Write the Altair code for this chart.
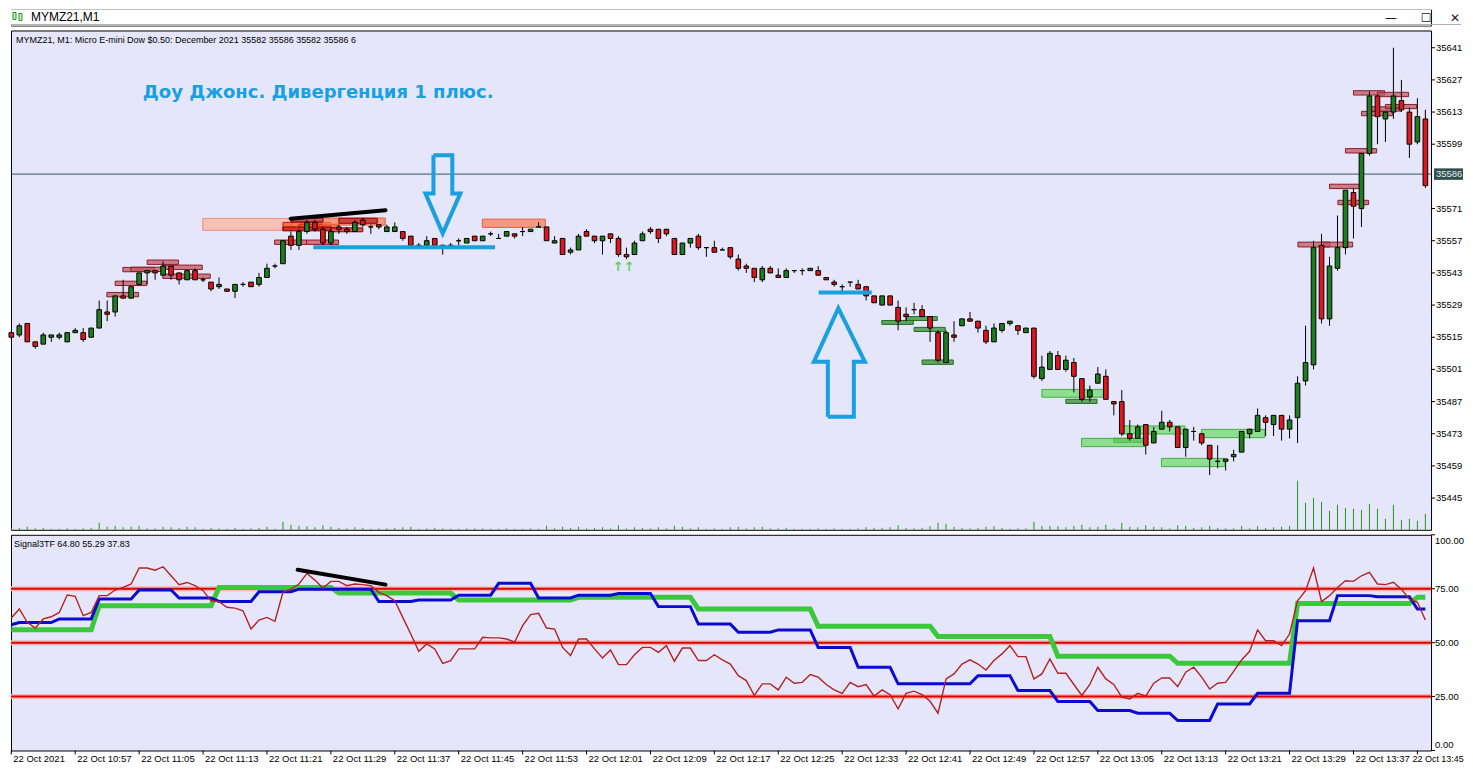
import altair as alt
import pandas as pd

# ---------------- data ----------------
TIME_LABELS = ["22 Oct 2021", "22 Oct 10:57", "22 Oct 11:05", "22 Oct 11:13", "22 Oct 11:21",
               "22 Oct 11:29", "22 Oct 11:37", "22 Oct 11:45", "22 Oct 11:53", "22 Oct 12:01",
               "22 Oct 12:09", "22 Oct 12:17", "22 Oct 12:25", "22 Oct 12:33", "22 Oct 12:41",
               "22 Oct 12:49", "22 Oct 12:57", "22 Oct 13:05", "22 Oct 13:13", "22 Oct 13:21",
               "22 Oct 13:29", "22 Oct 13:37", "22 Oct 13:45"]
LABEL_STEP = 8  # one label every 8 one-minute bars

OPEN = [
    35517, 35516, 35521, 35513, 35512, 35515, 35515, 35513, 35517, 35517,
    35515, 35519, 35526, 35526, 35533, 35532, 35538, 35543, 35544, 35542,
    35546, 35543, 35540, 35544, 35540, 35539, 35537, 35536, 35535, 35538,
    35539, 35538, 35541, 35546, 35547, 35559, 35555, 35561, 35565, 35562,
    35556, 35563, 35562, 35561, 35566, 35563, 35564, 35561, 35561, 35561,
    35559, 35555, 35555, 35558, 35555, 35555, 35557, 35556, 35559, 35557,
    35560, 35558, 35559, 35560, 35561, 35561, 35563, 35563, 35556, 35558,
    35552, 35553, 35561, 35559, 35557, 35560, 35558, 35551, 35551, 35557,
    35562, 35562, 35562, 35558, 35551, 35556, 35559, 35554, 35554, 35553,
    35554, 35549, 35546, 35545, 35540, 35545, 35542, 35541, 35544, 35544,
    35544, 35544, 35541, 35539, 35537, 35539, 35538, 35537, 35533, 35529,
    35533, 35528, 35525, 35527, 35527, 35524, 35517, 35504, 35516, 35520,
    35523, 35522, 35518, 35513, 35518, 35521, 35520, 35517, 35519, 35497,
    35501, 35507, 35501, 35504, 35497, 35489, 35495, 35498, 35487, 35487,
    35473, 35471, 35477, 35469, 35475, 35478, 35476, 35467, 35474, 35473,
    35468, 35461, 35461, 35463, 35465, 35473, 35474, 35480, 35477, 35481,
    35475, 35480, 35496, 35503, 35555, 35523, 35545, 35554, 35578, 35571,
    35595, 35620, 35610, 35613, 35618, 35613, 35600, 35610]
HIGH = [
    35518, 35521, 35521, 35513, 35517, 35516, 35517, 35517, 35519, 35519,
    35519, 35531, 35531, 35533, 35540, 35537, 35543, 35544, 35544, 35548,
    35546, 35543, 35544, 35545, 35541, 35539, 35541, 35536, 35538, 35539,
    35539, 35543, 35547, 35547, 35557, 35561, 35562, 35566, 35566, 35563,
    35562, 35564, 35563, 35566, 35567, 35564, 35564, 35564, 35565, 35561,
    35559, 35556, 35559, 35558, 35555, 35556, 35558, 35558, 35559, 35559,
    35561, 35560, 35561, 35560, 35563, 35562, 35565, 35563, 35559, 35558,
    35554, 35560, 35562, 35559, 35559, 35560, 35559, 35554, 35557, 35561,
    35563, 35562, 35562, 35558, 35556, 35558, 35560, 35554, 35557, 35554,
    35554, 35551, 35547, 35545, 35546, 35546, 35545, 35545, 35544, 35545,
    35545, 35546, 35541, 35540, 35538, 35539, 35540, 35537, 35533, 35533,
    35533, 35531, 35528, 35530, 35529, 35524, 35518, 35518, 35522, 35523,
    35526, 35522, 35520, 35521, 35521, 35522, 35520, 35519, 35519, 35507,
    35509, 35509, 35507, 35506, 35497, 35494, 35502, 35501, 35487, 35492,
    35479, 35477, 35477, 35476, 35483, 35479, 35476, 35475, 35476, 35473,
    35468, 35468, 35462, 35466, 35474, 35475, 35484, 35481, 35481, 35481,
    35481, 35498, 35520, 35557, 35560, 35550, 35568, 35579, 35580, 35595,
    35622, 35620, 35613, 35641, 35627, 35615, 35619, 35614]
LOW = [
    35514, 35515, 35513, 35510, 35512, 35513, 35514, 35513, 35517, 35513,
    35515, 35519, 35522, 35524, 35532, 35532, 35538, 35538, 35540, 35542,
    35540, 35538, 35540, 35540, 35539, 35535, 35536, 35535, 35532, 35537,
    35537, 35537, 35541, 35545, 35547, 35553, 35553, 35560, 35561, 35555,
    35555, 35560, 35560, 35561, 35563, 35560, 35562, 35561, 35561, 35557,
    35555, 35554, 35555, 35555, 35551, 35554, 35555, 35556, 35557, 35557,
    35559, 35558, 35559, 35558, 35559, 35561, 35563, 35557, 35556, 35551,
    35551, 35553, 35559, 35556, 35551, 35556, 35550, 35549, 35551, 35557,
    35560, 35556, 35559, 35551, 35551, 35554, 35553, 35550, 35552, 35553,
    35549, 35544, 35543, 35539, 35539, 35543, 35541, 35541, 35543, 35542,
    35544, 35542, 35540, 35537, 35535, 35537, 35536, 35531, 35530, 35529,
    35529, 35518, 35522, 35525, 35524, 35513, 35504, 35504, 35513, 35520,
    35522, 35517, 35512, 35513, 35517, 35520, 35516, 35517, 35497, 35496,
    35501, 35501, 35500, 35491, 35487, 35487, 35495, 35488, 35481, 35472,
    35470, 35471, 35464, 35469, 35475, 35474, 35467, 35463, 35470, 35468,
    35455, 35458, 35457, 35461, 35465, 35471, 35474, 35472, 35472, 35470,
    35471, 35469, 35494, 35501, 35521, 35520, 35544, 35551, 35558, 35563,
    35594, 35599, 35600, 35610, 35613, 35593, 35599, 35580]
CLOSE = [
    35515, 35520, 35513, 35511, 35516, 35516, 35516, 35517, 35518, 35514,
    35519, 35527, 35525, 35533, 35532, 35537, 35543, 35544, 35543, 35546,
    35542, 35540, 35544, 35540, 35540, 35536, 35538, 35535, 35538, 35538,
    35537, 35541, 35545, 35546, 35557, 35555, 35561, 35565, 35562, 35556,
    35561, 35562, 35561, 35565, 35564, 35563, 35563, 35563, 35563, 35558,
    35555, 35555, 35557, 35555, 35555, 35555, 35557, 35558, 35557, 35559,
    35560, 35558, 35561, 35559, 35561, 35562, 35563, 35557, 35557, 35551,
    35553, 35559, 35559, 35557, 35559, 35558, 35551, 35550, 35556, 35560,
    35561, 35558, 35560, 35551, 35556, 35558, 35554, 35554, 35552, 35553,
    35550, 35545, 35545, 35541, 35545, 35543, 35541, 35544, 35544, 35544,
    35545, 35542, 35540, 35538, 35537, 35539, 35536, 35533, 35530, 35533,
    35529, 35522, 35524, 35527, 35524, 35519, 35505, 35517, 35515, 35523,
    35522, 35519, 35513, 35519, 35521, 35522, 35518, 35519, 35498, 35502,
    35508, 35501, 35505, 35498, 35488, 35492, 35499, 35488, 35486, 35473,
    35471, 35476, 35468, 35474, 35478, 35476, 35467, 35475, 35474, 35469,
    35462, 35461, 35462, 35464, 35474, 35475, 35481, 35478, 35481, 35475,
    35479, 35495, 35504, 35554, 35523, 35546, 35554, 35579, 35572, 35595,
    35620, 35611, 35613, 35620, 35614, 35599, 35611, 35581]
VOLUME = [
    3, 4, 6, 3, 4, 2, 2, 3, 2, 3,
    4, 14, 6, 8, 5, 6, 8, 3, 3, 6,
    5, 4, 6, 5, 2, 4, 3, 2, 4, 2,
    3, 4, 6, 2, 16, 10, 8, 7, 5, 9,
    6, 4, 3, 5, 4, 2, 3, 3, 4, 5,
    6, 2, 3, 4, 3, 2, 2, 3, 3, 3,
    2, 2, 3, 2, 2, 3, 2, 8, 3, 6,
    4, 6, 3, 4, 5, 3, 9, 3, 5, 4,
    3, 5, 3, 8, 6, 3, 5, 2, 3, 2,
    5, 6, 3, 5, 6, 3, 3, 4, 2, 2,
    2, 3, 2, 3, 2, 2, 3, 5, 4, 4,
    5, 9, 4, 3, 4, 7, 14, 12, 6, 4,
    3, 4, 6, 7, 4, 2, 3, 3, 16, 8,
    8, 7, 5, 8, 10, 5, 6, 10, 3, 14,
    6, 5, 9, 6, 5, 3, 9, 8, 4, 5,
    8, 4, 3, 3, 8, 3, 7, 4, 5, 6,
    8, 98, 54, 64, 56, 38, 50, 44, 42, 40,
    52, 42, 22, 50, 20, 22, 18, 32]
VOLUME_FULL_SCALE = 1000  # volume that would fill the whole price pane height
LAST_PRICE = 35586
PRICE_TICKS = [35445, 35459, 35473, 35487, 35501, 35515, 35529, 35543, 35557,
               35571, 35599, 35613, 35627, 35641]

# Signal3TF indicator (M1 red, M5 blue, M15 green), one value per bar
RED = [
    61.4, 65.6, 59.4, 56.8, 61.0, 62.0, 64.0, 72.1, 71.5, 62.5,
    64.0, 71.8, 71.8, 74.4, 75.6, 77.2, 84.6, 84.6, 83.6, 85.2,
    81.0, 76.9, 77.9, 76.4, 74.1, 69.4, 69.0, 66.4, 66.0, 64.8,
    56.3, 60.5, 61.7, 59.9, 73.3, 74.8, 77.2, 82.1, 79.0, 75.3,
    78.4, 78.4, 76.4, 77.2, 76.9, 76.4, 73.3, 71.8, 69.4, 61.7,
    54.0, 46.0, 49.4, 47.1, 40.4, 41.7, 47.1, 47.1, 47.1, 52.5,
    52.2, 52.2, 51.7, 50.2, 57.9, 63.0, 63.6, 56.8, 56.3, 47.8,
    44.0, 51.7, 51.7, 47.1, 42.9, 46.6, 39.8, 39.8, 44.4, 47.8,
    47.8, 45.5, 48.6, 41.4, 47.5, 47.5, 41.7, 41.7, 44.4, 42.0,
    40.1, 34.7, 32.4, 25.5, 30.9, 30.9, 28.1, 34.0, 31.2, 31.6,
    35.2, 34.0, 30.6, 28.1, 26.5, 31.6, 29.6, 30.6, 25.2, 28.1,
    25.9, 19.3, 26.5, 27.5, 25.9, 22.8, 17.3, 33.2, 35.5, 40.1,
    42.0, 40.1, 37.3, 41.7, 44.8, 48.6, 43.5, 43.5, 33.2, 35.5,
    42.4, 35.8, 35.8, 30.6, 25.5, 30.6, 38.6, 33.2, 30.6, 24.7,
    23.9, 26.5, 25.2, 31.2, 33.6, 33.6, 29.6, 36.3, 38.6, 34.0,
    28.5, 31.2, 31.6, 36.7, 42.0, 46.0, 55.9, 50.9, 50.9, 48.6,
    54.0, 69.4, 74.1, 84.6, 69.1, 71.8, 75.6, 78.7, 78.4, 81.0,
    82.6, 77.2, 76.9, 78.0, 74.8, 70.2, 68.7, 60.5]
BLUE = [
    58.3,
    59.3, 59.3, 59.3, 59.3, 59.3, 61.0, 61.0, 61.0, 61.0, 61.0,
    70.2, 70.2, 70.2, 70.2, 70.2, 74.4, 74.4, 74.4, 74.4, 74.4,
    70.7, 70.7, 70.7, 70.7, 70.7, 69.1, 69.1, 69.1, 69.1, 69.1,
    73.6, 73.6, 73.6, 73.6, 73.6, 74.8, 74.8, 74.8, 74.8, 74.8,
    74.8, 74.8, 74.8, 74.8, 74.8, 69.1, 69.1, 69.1, 69.1, 69.1,
    69.8, 69.8, 69.8, 69.8, 69.8, 72.0, 72.0, 72.0, 72.0, 72.0,
    77.5, 77.5, 77.5, 77.5, 77.5, 70.7, 70.7, 70.7, 70.7, 70.7,
    72.0, 72.0, 72.0, 72.0, 72.0, 72.8, 72.8, 72.8, 72.8, 72.8,
    66.7, 66.7, 66.7, 66.7, 66.7, 58.6, 58.6, 58.6, 58.6, 58.6,
    54.8, 54.8, 54.8, 54.8, 54.8, 55.9, 55.9, 55.9, 55.9, 55.9,
    47.8, 47.8, 47.8, 47.8, 47.8, 38.6, 38.6, 38.6, 38.6, 38.6,
    30.9, 30.9, 30.9, 30.9, 30.9, 30.9, 30.9, 30.9, 30.9, 30.9,
    34.7, 34.7, 34.7, 34.7, 34.7, 27.8, 27.8, 27.8, 27.8, 27.8,
    22.7, 22.7, 22.7, 22.7, 22.7, 18.5, 18.5, 18.5, 18.5, 18.5,
    17.3, 17.3, 17.3, 17.3, 17.3, 13.9, 13.9, 13.9, 13.9, 13.9,
    21.6, 21.6, 21.6, 21.6, 21.6, 26.5, 26.5, 26.5, 26.5, 26.5,
    60.2, 60.2, 60.2, 60.2, 60.2, 71.8, 71.8, 71.8, 71.8, 71.8,
    71.3, 71.3, 71.3, 71.3, 71.3,
    65.6, 65.6]
GREEN = [
    56.0, 56.0, 56.0, 56.0, 56.0, 56.0, 56.0, 56.0, 56.0, 56.0, 56.0,
    67.1, 67.1, 67.1, 67.1, 67.1, 67.1, 67.1, 67.1, 67.1, 67.1, 67.1, 67.1, 67.1, 67.1, 67.1,
    75.6, 75.6, 75.6, 75.6, 75.6, 75.6, 75.6, 75.6, 75.6, 75.6, 75.6, 75.6, 75.6, 75.6, 75.6,
    73.0, 73.0, 73.0, 73.0, 73.0, 73.0, 73.0, 73.0, 73.0, 73.0, 73.0, 73.0, 73.0, 73.0, 73.0,
    69.8, 69.8, 69.8, 69.8, 69.8, 69.8, 69.8, 69.8, 69.8, 69.8, 69.8, 69.8, 69.8, 69.8, 69.8,
    71.0, 71.0, 71.0, 71.0, 71.0, 71.0, 71.0, 71.0, 71.0, 71.0, 71.0, 71.0, 71.0, 71.0, 71.0,
    65.6, 65.6, 65.6, 65.6, 65.6, 65.6, 65.6, 65.6, 65.6, 65.6, 65.6, 65.6, 65.6, 65.6, 65.6,
    57.6, 57.6, 57.6, 57.6, 57.6, 57.6, 57.6, 57.6, 57.6, 57.6, 57.6, 57.6, 57.6, 57.6, 57.6,
    52.8, 52.8, 52.8, 52.8, 52.8, 52.8, 52.8, 52.8, 52.8, 52.8, 52.8, 52.8, 52.8, 52.8, 52.8,
    43.7, 43.7, 43.7, 43.7, 43.7, 43.7, 43.7, 43.7, 43.7, 43.7, 43.7, 43.7, 43.7, 43.7, 43.7,
    40.4, 40.4, 40.4, 40.4, 40.4, 40.4, 40.4, 40.4, 40.4, 40.4, 40.4, 40.4, 40.4, 40.4, 40.4,
    68.2, 68.2, 68.2, 68.2, 68.2, 68.2, 68.2, 68.2, 68.2, 68.2, 68.2, 68.2, 68.2, 68.2, 68.2,
    71.0, 71.0]
LEVELS = [25, 50, 75]
IND_TICKS = [0, 25, 50, 75, 100]
IND_TICK_LABELS = ["0.00", "25.00", "50.00", "75.00", "100.00"]

# supply / demand boxes: bar index from, bar index to, price top, price bottom, kind
ZONE_I1 = [23.96, 58.96, 11.96, 13.0, 13.96, 14.96, 17.0, 18.96, 18.96, 32.96, 36.96,
           34.0, 36.0, 39.0, 41.0, 35.0, 34.0, 40.0,
           161.05, 164.0, 165.0, 166.05, 167.0, 168.0, 169.0, 170.0, 171.0, 172.0,
           108.96, 112.0, 113.0, 114.0, 132.0, 138.0,
           129.0, 133.96, 138.96, 143.96, 148.96]
ZONE_I2 = [35.2, 66.84, 15.93, 16.96, 17.93, 18.96, 20.93, 23.9, 24.9, 36.96, 40.96,
           40.0, 41.0, 46.8, 45.8, 39.0, 40.0, 44.0,
           165.05, 167.9, 168.75, 169.9, 170.9, 171.9, 172.9, 174.0, 174.9, 175.9,
           112.9, 115.9, 116.9, 117.9, 135.9, 141.9,
           136.9, 141.9, 146.9, 151.9, 156.9]
ZONE_P1 = [35566.7, 35566.4, 35534.5, 35539.4, 35545.4, 35545.5, 35548.6, 35546.4, 35542.5, 35557.3, 35557.3,
           35565.0, 35564.2, 35566.9, 35566.8, 35566.9, 35563.0, 35562.6,
           35556.4, 35556.4, 35581.6, 35574.6, 35597.1, 35622.3, 35613.3, 35615.3, 35621.6, 35616.3,
           35522.3, 35524.0, 35519.3, 35505.1, 35488.0, 35471.0,
           35492.3, 35471.0, 35476.4, 35462.3, 35474.9]
ZONE_P2 = [35561.5, 35562.8, 35532.6, 35537.5, 35543.5, 35543.6, 35546.7, 35544.5, 35540.6, 35555.4, 35555.4,
           35561.6, 35562.5, 35563.8, 35564.6, 35565.2, 35561.3, 35560.9,
           35554.3, 35554.3, 35579.7, 35572.7, 35595.2, 35620.4, 35611.4, 35613.4, 35619.7, 35614.5,
           35520.6, 35522.3, 35517.5, 35503.2, 35486.2, 35469.2,
           35488.9, 35467.4, 35472.9, 35458.7, 35471.3]
ZONE_KIND = ["pale", "pale2", "mauve", "mauve", "mauve", "mauve", "mauve", "mauve", "mauve", "mauve", "mauve",
             "orange", "orange", "pale2", "redbox", "redbox", "redbox", "redbox",
             "mauve", "mauve", "mauve", "mauve", "mauve", "mauve", "mauve", "mauve", "mauve", "mauve",
             "gdark", "gdark", "gdark", "gdark", "gdark", "gdark",
             "glight", "glight", "glight", "glight", "glight"]

# hand-drawn annotations (in bar index / price units)
DOWN_ARROW_I = [52.84, 55.2, 55.2, 56.21, 54.0, 51.84, 52.84, 52.84]
DOWN_ARROW_P = [35594.2, 35594.2, 35577.6, 35577.6, 35560.2, 35577.6, 35577.6, 35594.2]
UP_ARROW_I = [102.21, 105.46, 105.46, 106.84, 103.52, 100.46, 102.21, 102.21]
UP_ARROW_P = [35480.4, 35480.4, 35504.3, 35504.3, 35527.7, 35504.3, 35504.3, 35480.4]
BLUE_SEG_I1 = [37.8, 101.05]
BLUE_SEG_I2 = [60.55, 107.7]
BLUE_SEG_P = [35554.2, 35534.5]
BLACK_PRICE_SEG = [34.96, 35566.6, 46.84, 35570.3]
BLACK_IND_SEG = [35.84, 83.8, 46.84, 76.9]
TITLE_TEXT = "Доу Джонс. Дивергенция 1 плюс."
TITLE_POS = [16.46, 35621.5]
SIGNAL_ARROWS_POS = [76.65, 35545.5]
SYMBOL_HEADER = "MYMZ21, M1:  Micro E-mini Dow $0.50: December 2021  35582 35586 35582 35586  6"
IND_HEADER = "Signal3TF 64.80 55.29 37.83"
WINDOW_TITLE = "MYMZ21,M1"

# ---------------- layout / style ----------------
W, H_HEAD, H_PRICE, H_IND = 1422, 16, 500, 216
X_DOMAIN = [-0.04, 177.71]
P_DOMAIN = [35431.2, 35648.5]
BG = "#E6E6FA"
FONT = "Liberation Sans"
FS = 9.5
UP_C, DOWN_C = "#1e7d1e", "#e0161c"
ANNO_BLUE = "#1a9fe0"

idx = list(range(len(OPEN)))
df = pd.DataFrame({"i": idx, "open": OPEN, "high": HIGH, "low": LOW,
                   "close": CLOSE, "vol": VOLUME})
df["dir"] = ["up" if c > o else ("down" if c < o else "flat") for o, c in zip(OPEN, CLOSE)]

xs = alt.Scale(domain=X_DOMAIN, nice=False, zero=False)
ys = alt.Scale(domain=P_DOMAIN, nice=False, zero=False)
yi = alt.Scale(domain=[0, 100], nice=False, zero=True)


def XQ(f):
    return alt.X(f, type="quantitative", scale=xs, axis=None)


def YP(f):
    return alt.Y(f, type="quantitative", scale=ys, axis=None)


def YI(f):
    return alt.Y(f, type="quantitative", scale=yi, axis=None)


# ----- header (window title bar) -----
one = pd.DataFrame({"t": [WINDOW_TITLE]})
head_bg = alt.Chart(one).mark_rect(fill="white").encode(
    x=alt.value(0), x2=alt.value(W), y=alt.value(0), y2=alt.value(H_HEAD))
head_icon_body = alt.Chart(one).mark_rect(fill="#c8f0c8", stroke="#1e9a1e", strokeWidth=1).encode(
    x=alt.value(2), x2=alt.value(5), y=alt.value(3), y2=alt.value(10))
head_icon_body2 = alt.Chart(one).mark_rect(fill="#c8f0c8", stroke="#1e9a1e", strokeWidth=1).encode(
    x=alt.value(8), x2=alt.value(11), y=alt.value(4), y2=alt.value(11))
head_title = alt.Chart(one).mark_text(align="left", baseline="middle", font=FONT, fontSize=12,
                                      color="black").encode(
    x=alt.value(20), y=alt.value(7), text="t:N")
head_btns = [
    alt.Chart(one).mark_text(align="center", baseline="middle", font="DejaVu Sans",
                             fontSize=12, color="#222222").encode(
        x=alt.value(px), y=alt.value(8), text=alt.value(g))
    for px, g in [(W - 40, "—"), (W - 5, "☐"), (W + 24, "✕")]
]
head_line = alt.Chart(one).mark_rule(color="#b0b0b0", strokeWidth=1).encode(
    x=alt.value(0), x2=alt.value(W + 30), y=alt.value(H_HEAD - 1))
header = alt.layer(head_bg, head_icon_body, head_icon_body2, head_title, *head_btns, head_line
                   ).properties(width=W, height=H_HEAD)

# ----- price panel -----
wicks = alt.Chart(df).mark_rule(color="black", strokeWidth=1).encode(
    x=XQ("i"), y=YP("low"), y2="high")

zones_df = pd.DataFrame({"i1": ZONE_I1, "i2": ZONE_I2, "p1": ZONE_P1, "p2": ZONE_P2, "kind": ZONE_KIND})
kinds = ["pale", "pale2", "mauve", "orange", "redbox", "gdark", "glight"]
zone_fill = ["#fdb19d", "#fa7a52", "#bd555b", "#ff500f", "#c42020", "#2f8a2a", "#6ed967"]
zone_stroke = ["#f09080", "#e0603f", "#8b1c2a", "#c02020", "#8b0000", "#1e6e1e", "#40b040"]
zones = alt.Chart(zones_df).mark_rect(strokeWidth=1, fillOpacity=0.72).encode(
    x=XQ("i1"), x2="i2", y=YP("p1"), y2="p2",
    fill=alt.Fill("kind:N", scale=alt.Scale(domain=kinds, range=zone_fill), legend=None),
    stroke=alt.Stroke("kind:N", scale=alt.Scale(domain=kinds, range=zone_stroke), legend=None))

vol = alt.Chart(df).transform_calculate(
    vbase=str(P_DOMAIN[0]),
    vtop=f"{P_DOMAIN[0]} + datum.vol * {(P_DOMAIN[1] - P_DOMAIN[0]) / VOLUME_FULL_SCALE}"
).mark_rule(color="#1a9a1a", strokeWidth=1).encode(x=XQ("i"), y=YP("vtop:Q"), y2="vbase:Q")

lp_df = pd.DataFrame({"p": [LAST_PRICE], "top": [LAST_PRICE + 2.5], "bot": [LAST_PRICE - 2.5],
                      "label": [str(LAST_PRICE)]})
last_line = alt.Chart(lp_df).mark_rule(color="#3a5656", strokeWidth=1).encode(y=YP("p"))

bodies = alt.Chart(df).transform_calculate(
    xa="datum.i - 0.29", xb="datum.i + 0.29"
).mark_rect(stroke="black", strokeWidth=1).encode(
    x=XQ("xa:Q"), x2="xb:Q", y=YP("open"), y2="close",
    color=alt.Color("dir:N", scale=alt.Scale(domain=["up", "down", "flat"],
                                             range=[UP_C, DOWN_C, "#000000"]), legend=None))

arrows_df = pd.DataFrame({
    "i": DOWN_ARROW_I + UP_ARROW_I,
    "p": DOWN_ARROW_P + UP_ARROW_P,
    "arrow": ["down"] * len(DOWN_ARROW_I) + ["up"] * len(UP_ARROW_I),
    "k": list(range(len(DOWN_ARROW_I))) + list(range(len(UP_ARROW_I)))})
arrows = alt.Chart(arrows_df).mark_line(color=ANNO_BLUE, strokeWidth=4, strokeJoin="miter").encode(
    x=XQ("i"), y=YP("p"), detail="arrow:N", order="k:Q")

blue_df = pd.DataFrame({"i1": BLUE_SEG_I1, "i2": BLUE_SEG_I2, "p": BLUE_SEG_P})
blue_segs = alt.Chart(blue_df).mark_rule(color=ANNO_BLUE, strokeWidth=4).encode(
    x=XQ("i1"), x2="i2", y=YP("p"))

bp_df = pd.DataFrame({"i1": [BLACK_PRICE_SEG[0]], "p1": [BLACK_PRICE_SEG[1]],
                      "i2": [BLACK_PRICE_SEG[2]], "p2": [BLACK_PRICE_SEG[3]]})
black_price = alt.Chart(bp_df).mark_rule(color="black", strokeWidth=4, strokeCap="round").encode(
    x=XQ("i1"), x2="i2", y=YP("p1"), y2="p2")

title_df = pd.DataFrame({"i": [TITLE_POS[0]], "p": [TITLE_POS[1]], "t": [TITLE_TEXT]})
title = alt.Chart(title_df).mark_text(align="left", baseline="middle", font="DejaVu Sans",
                                      fontSize=18, fontWeight="bold", color=ANNO_BLUE).encode(
    x=XQ("i"), y=YP("p"), text="t:N")

sig_df = pd.DataFrame({"i": [SIGNAL_ARROWS_POS[0]], "p": [SIGNAL_ARROWS_POS[1]], "t": ["↑↑"]})
sig = alt.Chart(sig_df).mark_text(align="center", baseline="middle", font="DejaVu Sans",
                                  fontSize=13, fontWeight="bold", color="#5fd35f").encode(
    x=XQ("i"), y=YP("p"), text="t:N")

sym_df = pd.DataFrame({"t": [SYMBOL_HEADER]})
sym = alt.Chart(sym_df).mark_text(align="left", baseline="middle", font=FONT, fontSize=9,
                                  color="black").encode(x=alt.value(5), y=alt.value(10), text="t:N")

# right-hand price scale drawn from PRICE_TICKS through the price scale
pt_df = pd.DataFrame({"t": PRICE_TICKS, "label": [str(v) for v in PRICE_TICKS]})
p_ticks = alt.Chart(pt_df).mark_rule(color="black", strokeWidth=1).encode(
    x=alt.value(W), x2=alt.value(W + 4), y=YP("t"))
p_labels = alt.Chart(pt_df).mark_text(align="left", baseline="middle", font=FONT, fontSize=FS,
                                      color="black").encode(
    x=alt.value(W + 5), y=YP("t"), text="label:N")

tag_box = alt.Chart(lp_df).mark_rect(fill="#2f4f4f").encode(
    x=alt.value(W + 3), x2=alt.value(W + 32), y=YP("top"), y2="bot")
tag_txt = alt.Chart(lp_df).mark_text(align="left", baseline="middle", font=FONT, fontSize=FS,
                                     color="#e6eeee").encode(
    x=alt.value(W + 5), y=YP("p"), text="label:N")

price = alt.layer(zones, vol, last_line, wicks, bodies, arrows, blue_segs, black_price,
                  title, sig, sym, p_ticks, p_labels, tag_box, tag_txt
                  ).properties(width=W, height=H_PRICE)

# ----- indicator panel -----
ind_df = pd.DataFrame({"i": idx, "red": RED, "blue": BLUE, "green": GREEN})
lv_df = pd.DataFrame({"lv": LEVELS})
lv_glow = alt.Chart(lv_df).mark_rule(color="#f4b4b4", strokeWidth=5).encode(y=YI("lv"))
lv_line = alt.Chart(lv_df).mark_rule(color="#e00000", strokeWidth=2).encode(y=YI("lv"))
g_line = alt.Chart(ind_df).mark_line(color="#3cc83c", strokeWidth=5, clip=True).encode(
    x=XQ("i"), y=YI("green"))
b_line = alt.Chart(ind_df).mark_line(color="#0a0ad2", strokeWidth=3, clip=True).encode(
    x=XQ("i"), y=YI("blue"))
r_line = alt.Chart(ind_df).mark_line(color="#b22222", strokeWidth=1.4, clip=True).encode(
    x=XQ("i"), y=YI("red"))
bi_df = pd.DataFrame({"i1": [BLACK_IND_SEG[0]], "v1": [BLACK_IND_SEG[1]],
                      "i2": [BLACK_IND_SEG[2]], "v2": [BLACK_IND_SEG[3]]})
black_ind = alt.Chart(bi_df).mark_rule(color="black", strokeWidth=4, strokeCap="round").encode(
    x=XQ("i1"), x2="i2", y=YI("v1"), y2="v2")
ih_df = pd.DataFrame({"t": [IND_HEADER]})
ind_head = alt.Chart(ih_df).mark_text(align="left", baseline="middle", font=FONT, fontSize=9,
                                      color="black").encode(x=alt.value(3), y=alt.value(9), text="t:N")

# right-hand indicator scale
it_df = pd.DataFrame({"t": IND_TICKS, "label": IND_TICK_LABELS})
i_ticks = alt.Chart(it_df).mark_rule(color="black", strokeWidth=1).encode(
    x=alt.value(W), x2=alt.value(W + 4), y=YI("t"))
i_lab_mid = alt.Chart(it_df).transform_filter("datum.t > 0 && datum.t < 100").mark_text(
    align="left", baseline="middle", font=FONT, fontSize=FS, color="black").encode(
    x=alt.value(W + 4), y=YI("t"), text="label:N")
i_lab_top = alt.Chart(it_df).transform_filter("datum.t >= 100").mark_text(
    align="left", baseline="top", font=FONT, fontSize=FS, color="black", dy=1).encode(
    x=alt.value(W + 4), y=YI("t"), text="label:N")
i_lab_bot = alt.Chart(it_df).transform_filter("datum.t <= 0").mark_text(
    align="left", baseline="bottom", font=FONT, fontSize=FS, color="black", dy=-1).encode(
    x=alt.value(W + 4), y=YI("t"), text="label:N")

# time scale along the bottom (the last label is kept inside the page)
tl_df = pd.DataFrame({"t": [k * LABEL_STEP for k in range(len(TIME_LABELS))], "label": TIME_LABELS,
                      "last": [k == len(TIME_LABELS) - 1 for k in range(len(TIME_LABELS))]})
t_ticks = alt.Chart(tl_df).mark_rule(color="black", strokeWidth=1).encode(
    x=XQ("t"), y=alt.value(H_IND), y2=alt.value(H_IND + 4))
t_labels = alt.Chart(tl_df).transform_filter("!datum.last").mark_text(
    align="left", baseline="alphabetic", font=FONT, fontSize=FS, color="black", dx=2).encode(
    x=XQ("t"), y=alt.value(H_IND + 12), text="label:N")
t_label_last = alt.Chart(tl_df).transform_filter("datum.last").mark_text(
    align="right", baseline="alphabetic", font=FONT, fontSize=9, color="black", dx=46.5).encode(
    x=XQ("t"), y=alt.value(H_IND + 12), text="label:N")

indicator = alt.layer(lv_glow, lv_line, g_line, b_line, r_line, black_ind, ind_head,
                      i_ticks, i_lab_mid, i_lab_top, i_lab_bot, t_ticks, t_labels, t_label_last
                      ).properties(width=W, height=H_IND)

chart = alt.vconcat(header, price, indicator, spacing=3).properties(
    padding=0, background="white"
).configure_view(fill=BG, stroke="black", strokeWidth=1)

chart.save("out.html", embed_options={"renderer": "svg", "actions": False})
